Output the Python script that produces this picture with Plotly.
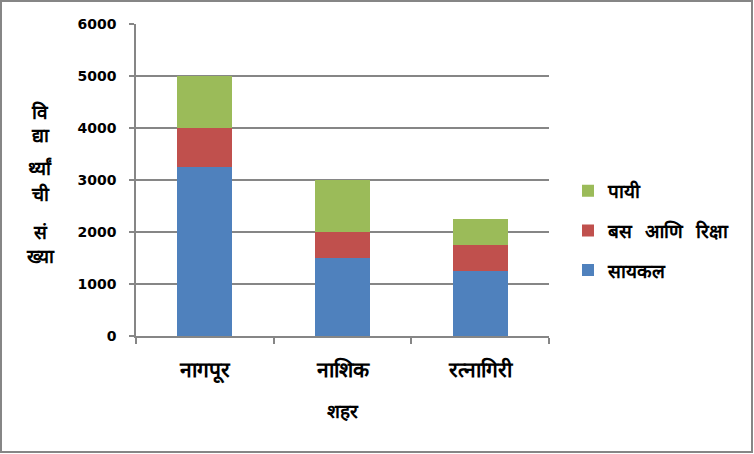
import plotly.graph_objects as go

# शहरनिहाय विद्यार्थी संख्या
cities = ['नागपूर', 'नाशिक', 'रत्नागिरी']
cycle = [3250, 1500, 1250]
bus_rickshaw = [750, 500, 500]
walking = [1000, 1000, 500]

y_ticks = [0, 1000, 2000, 3000, 4000, 5000, 6000]

grid = '#868686'
font_num = 'DejaVu Sans'

fig = go.Figure()

fig.add_trace(go.Bar(x=cities, y=cycle, name='सायकल',
                     marker=dict(color='#4F81BD', line=dict(width=0)),
                     legendgroup='a', legendrank=3))
fig.add_trace(go.Bar(x=cities, y=bus_rickshaw, name='बस  आणि  रिक्षा',
                     marker=dict(color='#C0504D', line=dict(width=0)),
                     legendgroup='b', legendrank=2))
fig.add_trace(go.Bar(x=cities, y=walking, name='पायी',
                     marker=dict(color='#9BBB59', line=dict(width=0)),
                     legendgroup='c', legendrank=1))

fig.update_layout(
    barmode='stack',
    bargap=0.6,
    width=754,
    height=454,
    margin=dict(l=136, r=205, t=24, b=118),
    paper_bgcolor='white',
    plot_bgcolor='white',
    font=dict(family=font_num, size=14, color='black'),
    showlegend=True,
    legend=dict(
        x=1.046, y=0.337, xanchor='left', yanchor='middle',
        traceorder='grouped',
        tracegroupgap=12,
        font=dict(size=19, weight='bold'),
        itemwidth=30,
    ),
    xaxis=dict(
        showline=True, linecolor=grid, linewidth=1.5,
        ticks='outside', ticklen=6, tickcolor=grid, tickwidth=1.5,
        tickson='boundaries',
        tickfont=dict(size=21, weight='bold'),
        ticklabelstandoff=14,
        title=dict(text='शहर', font=dict(size=19, weight='bold'), standoff=22),
    ),
    yaxis=dict(
        range=[0, 6000],
        tickvals=y_ticks,
        showline=True, linecolor=grid, linewidth=1.5,
        showgrid=True, gridcolor=grid, gridwidth=1.5,
        ticks='outside', ticklen=5, tickcolor=grid, tickwidth=1.5,
        tickfont=dict(family=font_num, size=14, weight='bold'),
        ticklabelstandoff=10,
        zeroline=False,
    ),
    shapes=[dict(type='rect', xref='paper', yref='paper',
                 x0=(1 - 136) / 413, x1=(752 - 136) / 413,
                 y0=(336 - 452) / 312, y1=(336 - 1) / 312,
                 line=dict(color=grid, width=2))],
)

# y-axis title, one syllable per line
y_title = [('वि', 112), ('द्या', 135), ('र्थ्यां', 168), ('ची', 194), ('सं', 232), ('ख्या', 256)]
for txt, yy in y_title:
    fig.add_annotation(text=txt, xref='paper', yref='paper',
                       x=(40 - 136) / 413, y=(336 - yy) / 312,
                       xanchor='center', yanchor='middle',
                       showarrow=False, font=dict(size=19, weight='bold'))

fig.write_html('out.html', config={'displayModeBar': False},
               post_script="document.body.style.margin='0px';")
